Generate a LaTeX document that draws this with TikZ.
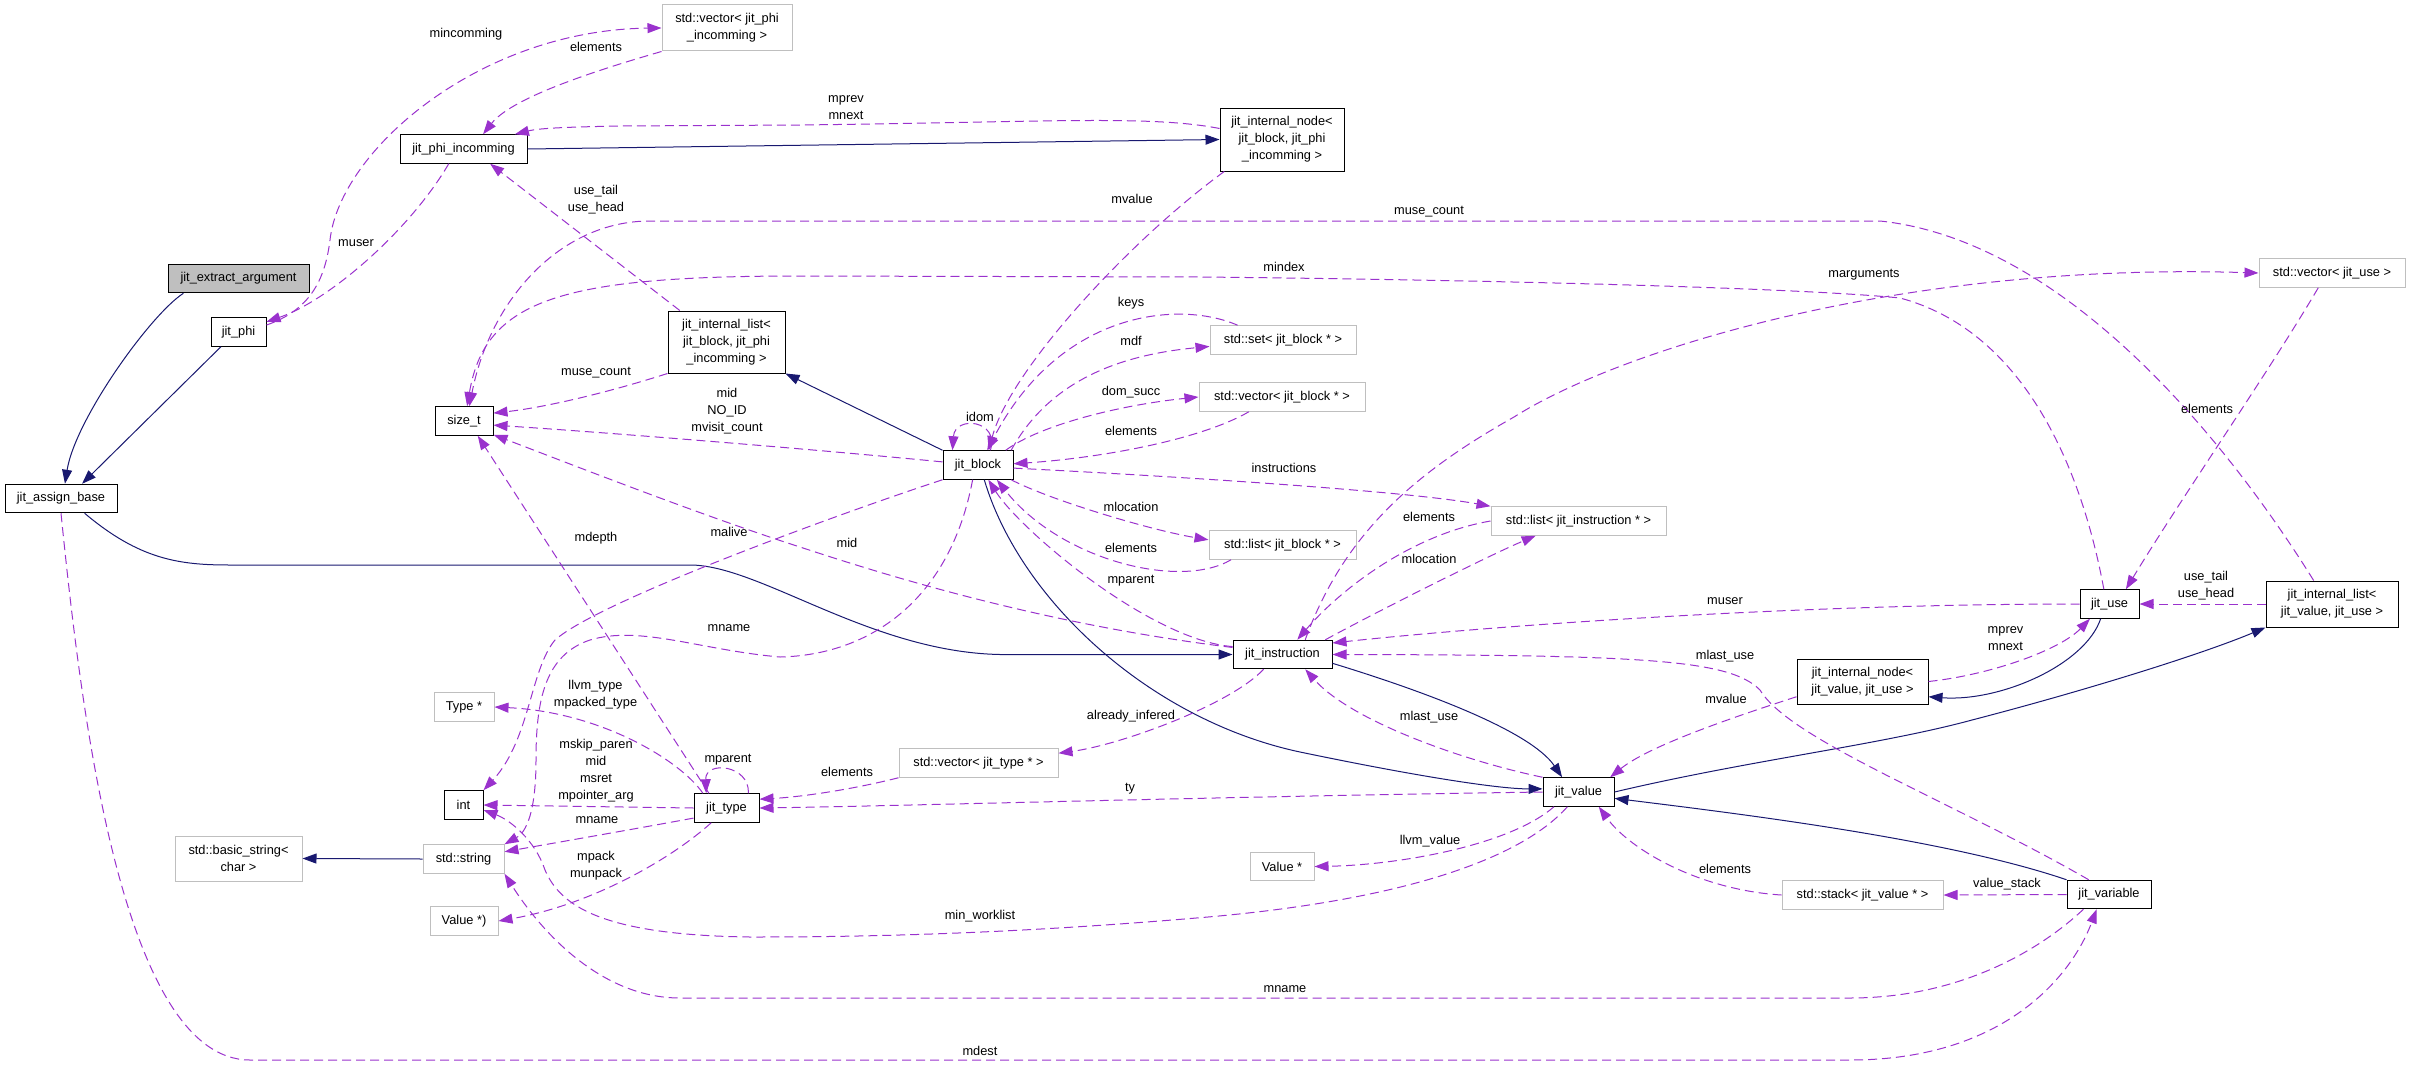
\documentclass[tikz,border=0pt]{standalone}
\usepackage{fontspec}
\setmainfont{Liberation Sans}
\usetikzlibrary{arrows.meta}
\definecolor{inhblue}{HTML}{191970}
\definecolor{usepurple}{HTML}{9A32CD}
\definecolor{extgray}{HTML}{BFBFBF}

\begin{document}
\begin{tikzpicture}[x=1pt, y=-1pt,
  every node/.style={font=\fontsize{12.8}{17}\selectfont},
  cls/.style={draw=black, line width=1pt, fill=white, inner xsep=2pt, inner ysep=2pt, minimum height=28.5pt, align=center},
  ext/.style={cls, draw=extgray},
  cur/.style={cls, fill=extgray},
  inherit/.style={draw=inhblue, line width=1pt, -{Triangle[length=14pt,width=10pt]}},
  member/.style={draw=usepurple, line width=1pt, dash pattern=on 9pt off 5pt, -{Triangle[length=14pt,width=10pt]}},
  lbl/.style={inner sep=0pt, align=center}]
  \useasboundingbox (0,0) rectangle (2411,1065);

  \node[cur, minimum width=141pt] (extract) at (238.5,278.5) {jit\_extract\_argument};
  \node[cls, minimum width=55pt] (phi) at (238.5,332) {jit\_phi};
  \node[cls, minimum width=112pt] (assign) at (61,498.5) {jit\_assign\_base};
  \node[ext, minimum width=127pt, minimum height=45pt] (basicstr) at (238.5,858.5) {std::basic\_string<\\char >};
  \node[ext, minimum width=130pt, minimum height=46pt] (vecphi) at (727,28) {std::vector< jit\_phi\\\_incomming >};
  \node[cls, minimum width=127pt] (phiinc) at (463.5,149) {jit\_phi\_incomming};
  \node[cls, minimum width=117pt, minimum height=62pt] (blocklist) at (726.5,342) {jit\_internal\_list<\\jit\_block, jit\_phi\\\_incomming >};
  \node[cls, minimum width=124pt, minimum height=63pt] (blocknode) at (1282,139.5) {jit\_internal\_node<\\jit\_block, jit\_phi\\\_incomming >};
  \node[ext, minimum width=146pt] (blockset) at (1283,340) {std::set< jit\_block * >};
  \node[ext, minimum width=146pt] (usevec) at (2332,273) {std::vector< jit\_use >};
  \node[cls, minimum width=58pt] (sizet) at (464,421) {size\_t};
  \node[ext, minimum width=60pt] (typeptr) at (464,707) {Type *};
  \node[cls, minimum width=70pt] (block) at (978,465) {jit\_block};
  \node[ext, minimum width=166pt] (blockvec) at (1282,397) {std::vector< jit\_block * >};
  \node[ext, minimum width=147pt] (blockstl) at (1282.5,545) {std::list< jit\_block * >};
  \node[ext, minimum width=175pt] (instrlist) at (1578.5,521) {std::list< jit\_instruction * >};
  \node[cls, minimum width=99pt] (instr) at (1282.5,654.5) {jit\_instruction};
  \node[cls, minimum width=59pt] (jituse) at (2109.5,604) {jit\_use};
  \node[cls, minimum width=132pt, minimum height=46pt] (valuelist) at (2332,604) {jit\_internal\_list<\\jit\_value, jit\_use >};
  \node[cls, minimum width=131pt, minimum height=45pt] (valuenode) at (1862.5,681.5) {jit\_internal\_node<\\jit\_value, jit\_use >};
  \node[cls, minimum width=39pt] (int) at (463.5,805) {int};
  \node[ext, minimum width=81pt] (string) at (463.5,859) {std::string};
  \node[ext, minimum width=68pt] (valparen) at (464,921) {Value *)};
  \node[cls, minimum width=65pt] (type) at (726.5,808) {jit\_type};
  \node[ext, minimum width=159pt] (typevec) at (978.5,763) {std::vector< jit\_type * >};
  \node[cls, minimum width=71pt] (value) at (1578.5,792) {jit\_value};
  \node[ext, minimum width=64pt] (valptr) at (1282,866.5) {Value *};
  \node[ext, minimum width=161pt] (valstack) at (1862.5,895) {std::stack< jit\_value * >};
  \node[cls, minimum width=84pt] (variable) at (2109,894.5) {jit\_variable};

  \draw[inherit] (extract.195) .. controls (150,315) and (75,420) .. (assign.75);
  \draw[inherit] (phi.220) -- (assign.35);
  \draw[inherit] (phiinc.east) -- (blocknode.west);
  \draw[inherit] (block.north west) -- (blocklist.south east);
  \draw[inherit] (assign.-32) .. controls (140,560) and (180,565) .. (230,565) -- (690,565) .. controls (760,565) and (870,652) .. (1000,654.5) -- (instr.west);
  \draw[inherit] (block.-67) .. controls (1020,600) and (1150,720) .. (1300,752) .. controls (1420,777) and (1500,789) .. (value.175);
  \draw[inherit] (instr.-10) .. controls (1420,690) and (1530,730) .. (value.138);
  \draw[inherit] (value.east) .. controls (1750,760) and (1880,745) .. (1972,720) .. controls (2080,692) and (2200,655) .. (valuelist.south west);
  \draw[inherit] (variable.north west) .. controls (1950,840) and (1750,815) .. (value.-10);
  \draw[inherit] (jituse.239) .. controls (2085,665) and (2000,702) .. (valuenode.-13);
  \draw[inherit] (string.west) -- (basicstr.east);

  \draw[member] (phi.14) .. controls (310,310) and (325,280) .. (330,240) .. controls (340,150) and (480,30) .. (vecphi.west);
  \draw[member] (vecphi.south west) .. controls (580,75) and (510,100) .. (phiinc.37);
  \draw[member] (phiinc.225) .. controls (410,230) and (330,300) .. (phi.20);
  \draw[member] (blocknode.170) .. controls (1150,115) and (1050,122) .. (800,125) -- (620,126) .. controls (570,127) and (540,128) .. (phiinc.16);
  \draw[member] (blocklist.146) -- (phiinc.-29);
  \draw[member] (blocknode.209) .. controls (1130,240) and (1010,370) .. (block.54);
  \draw[member] (valuelist.128) .. controls (2220,430) and (2060,240) .. (1880,221) -- (650,221) .. controls (560,221) and (490,300) .. (sizet.70);
  \draw[member] (jituse.111) .. controls (2080,460) and (2020,330) .. (1900,298) .. controls (1800,288) and (1500,280) .. (1200,277) -- (800,276) .. controls (560,276) and (485,300) .. (sizet.78);
  \draw[member] (blocklist.south west) .. controls (600,395) and (540,408) .. (sizet.15);
  \draw[member] (block.175) .. controls (800,448) and (600,432) .. (sizet.-8);
  \draw[member] (instr.172) .. controls (1050,625) and (900,580) .. (800,547) .. controls (700,515) and (560,460) .. (sizet.-25);
  \draw[member] (type.140) -- (sizet.-47);
  \draw[member] (block.50) .. controls (1000,420) and (955,415) .. (block.150);
  \draw[member] (blockset.162) .. controls (1180,300) and (1060,310) .. (block.58);
  \draw[member] (block.24) .. controls (1050,380) and (1120,355) .. (blockset.185);
  \draw[member] (block.28) .. controls (1040,425) and (1120,405) .. (blockvec.west);
  \draw[member] (blockvec.204) .. controls (1200,440) and (1100,458) .. (block.2);
  \draw[member] (block.-5) .. controls (1150,475) and (1400,490) .. (instrlist.north west);
  \draw[member] (instrlist.west) .. controls (1410,535) and (1340,590) .. (instr.45);
  \draw[member] (instr.19) .. controls (1380,610) and (1490,555) .. (instrlist.199);
  \draw[member] (instr.33) .. controls (1345,530) and (1420,470) .. (1514,417) .. controls (1620,350) and (1900,262) .. (usevec.west);
  \draw[member] (usevec.227) .. controls (2270,370) and (2180,500) .. (jituse.42);
  \draw[member] (valuelist.west) -- (jituse.east);
  \draw[member] (jituse.west) .. controls (1800,604) and (1500,625) .. (instr.13);
  \draw[member] (variable.144) .. controls (1950,800) and (1790,740) .. (1760,690) .. controls (1730,660) and (1650,655) .. (instr.east);
  \draw[member] (value.north west) .. controls (1460,760) and (1350,720) .. (instr.-33);
  \draw[member] (valuenode.193) .. controls (1740,715) and (1650,745) .. (value.25);
  \draw[member] (valuenode.east) .. controls (1990,675) and (2060,650) .. (jituse.217);
  \draw[member] (valstack.west) .. controls (1700,890) and (1630,850) .. (value.-36);
  \draw[member] (variable.west) -- (valstack.east);
  \draw[member] (variable.210) .. controls (2040,950) and (1960,998) .. (1850,998) -- (680,998) .. controls (600,998) and (540,930) .. (string.south east);
  \draw[member] (assign.south) .. controls (80,700) and (120,1060) .. (250,1060) -- (1850,1060) .. controls (2000,1060) and (2070,980) .. (variable.230);
  \draw[member] (block.250) .. controls (950,600) and (870,655) .. (780,657) .. controls (700,650) and (640,625) .. (590,640) .. controls (545,655) and (536,700) .. (536,760) .. controls (536,800) and (530,830) .. (string.north east);
  \draw[member] (block.south west) .. controls (850,510) and (600,600) .. (555,640) .. controls (530,670) and (530,740) .. (int.north east);
  \draw[member] (value.233) .. controls (1520,860) and (1400,900) .. (1208,917) .. controls (1000,935) and (850,937) .. (750,937) .. controls (600,935) and (560,905) .. (545,870) .. controls (535,840) and (510,820) .. (int.-14);
  \draw[member] (value.west) .. controls (1200,797) and (900,806) .. (type.east);
  \draw[member] (typevec.south west) .. controls (850,790) and (800,797) .. (type.15);
  \draw[member] (instr.218) .. controls (1230,705) and (1120,745) .. (typevec.7);
  \draw[member] (instr.171) .. controls (1150,640) and (1020,530) .. (block.-55);
  \draw[member] (blockstl.196) .. controls (1180,590) and (1060,560) .. (block.-38);
  \draw[member] (block.-24) .. controls (1050,500) and (1150,530) .. (blockstl.176);
  \draw[member] (type.148) .. controls (680,760) and (600,712) .. (typeptr.east);
  \draw[member] (type.west) -- (int.east);
  \draw[member] (type.197) .. controls (640,828) and (560,842) .. (string.10);
  \draw[member] (type.224) .. controls (670,860) and (590,905) .. (valparen.east);
  \draw[member] (type.34) .. controls (750,765) and (705,760) .. (type.144);
  \draw[member] (value.211) .. controls (1510,845) and (1400,865) .. (valptr.east);

  \node[lbl] (lmincomming) at (466,34) {mincomming};
  \node[lbl] (lphielements) at (596,47) {elements};
  \node[lbl] (lmuser) at (356,243) {muser};
  \node[lbl] (lblockprev) at (846,107.5) {mprev\\mnext};
  \node[lbl] (lphiuse) at (596,199.5) {use\_tail\\use\_head};
  \node[lbl] (lblockvalue) at (1132,199) {mvalue};
  \node[lbl] (lusecount) at (1429,212) {muse\_count};
  \node[lbl] (lmindex) at (1284,267) {mindex};
  \node[lbl] (lkeys) at (1131,303) {keys};
  \node[lbl] (lmdf) at (1131,341) {mdf};
  \node[lbl] (lmarguments) at (1864,275) {marguments};
  \node[lbl] (lblockcount) at (596,373) {muse\_count};
  \node[lbl] (lblockid) at (727,411) {mid\\NO\_ID\\mvisit\_count};
  \node[lbl] (lidom) at (980,417) {idom};
  \node[lbl] (ldomsucc) at (1131,392) {dom\_succ};
  \node[lbl] (lvecelements) at (1131,431) {elements};
  \node[lbl] (lusevecelements) at (2207,409) {elements};
  \node[lbl] (linstructions) at (1284,468) {instructions};
  \node[lbl] (lblocklocation) at (1131,507) {mlocation};
  \node[lbl] (lstlelements) at (1131,548) {elements};
  \node[lbl] (lmparent) at (1131,581) {mparent};
  \node[lbl] (linstrid) at (847,543) {mid};
  \node[lbl] (lmdepth) at (596,538) {mdepth};
  \node[lbl] (lmalive) at (729,532) {malive};
  \node[lbl] (linstrelements) at (1429,517) {elements};
  \node[lbl] (linstrlocation) at (1429,559) {mlocation};
  \node[lbl] (lvalueuse) at (2206,586) {use\_tail\\use\_head};
  \node[lbl] (linstruser) at (1725,601) {muser};
  \node[lbl] (lblockname) at (729,628) {mname};
  \node[lbl] (lvalueprev) at (2005.5,639) {mprev\\mnext};
  \node[lbl] (lvarlastuse) at (1725,656) {mlast\_use};
  \node[lbl] (lllvmtype) at (595.5,695) {llvm\_type\\mpacked\_type};
  \node[lbl] (lnodevalue) at (1726,699) {mvalue};
  \node[lbl] (linfered) at (1131,716) {already\_infered};
  \node[lbl] (lvaluelastuse) at (1429,717) {mlast\_use};
  \node[lbl] (ltypeint) at (596,770.5) {mskip\_paren\\mid\\msret\\mpointer\_arg};
  \node[lbl] (ltypeparent) at (728,760) {mparent};
  \node[lbl] (ltypeelements) at (847,772) {elements};
  \node[lbl] (lty) at (1130,789) {ty};
  \node[lbl] (ltypename) at (597,820) {mname};
  \node[lbl] (lllvmvalue) at (1430,841) {llvm\_value};
  \node[lbl] (lmpack) at (596,866) {mpack\\munpack};
  \node[lbl] (lstackelements) at (1725,869) {elements};
  \node[lbl] (lvaluestack) at (2007,884) {value\_stack};
  \node[lbl] (lworklist) at (980,916) {min\_worklist};
  \node[lbl] (lvarname) at (1285,989) {mname};
  \node[lbl] (lmdest) at (980,1051) {mdest};
\end{tikzpicture}
\end{document}
